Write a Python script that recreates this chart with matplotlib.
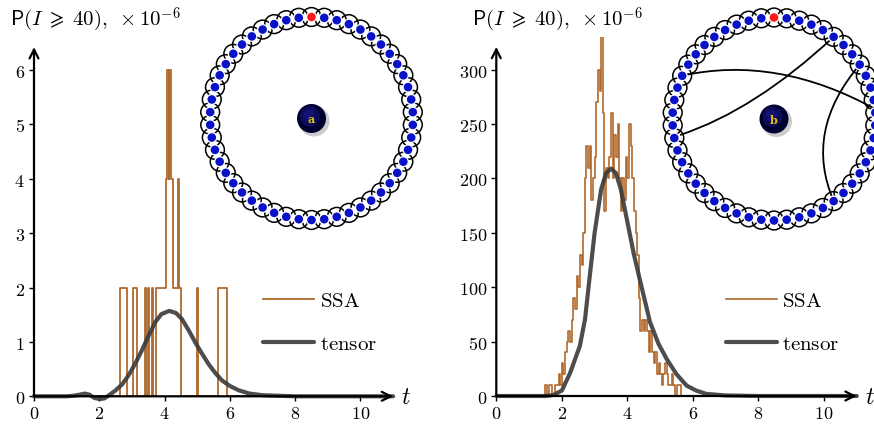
import numpy as np
import matplotlib
matplotlib.use('Agg')
import matplotlib.pyplot as plt
from matplotlib.patches import Circle, PathPatch
from matplotlib.path import Path

plt.rcParams['mathtext.fontset'] = 'cm'

# ---- data ----
# panel a: SSA step breakpoints (value holds until next time)
ssa_a_t = [0, 2.64, 2.86, 3.03, 3.15, 3.40, 3.44, 3.49, 3.53, 3.60, 3.65, 3.73,
           4.03, 4.07, 4.12, 4.15, 4.20, 4.27, 4.42, 4.45, 4.51, 5.00, 5.03,
           5.65, 5.91, 11.0]
ssa_a_v = [0, 2, 0, 2, 0, 2, 0, 2, 0, 2, 0, 2,
           4, 6, 4, 6, 4, 2, 4, 2, 0, 2, 0,
           2, 0, 0]

tensor_a_t = [0, 1.0, 1.2, 1.4, 1.55, 1.7, 1.85, 2.0, 2.15, 2.3, 2.48, 2.7, 2.89,
              3.1, 3.3, 3.5, 3.71, 3.9, 4.14, 4.35, 4.53, 4.75, 4.94, 5.15,
              5.35, 5.55, 5.76, 6.0, 6.27, 6.6, 7.0, 7.5, 8.0, 11.0]
tensor_a_v = [0, 0, 0.01, 0.03, 0.05, 0.03, -0.03, -0.05, -0.04, 0.02, 0.10,
              0.22, 0.38, 0.60, 0.84, 1.10, 1.36, 1.51, 1.57, 1.53, 1.42, 1.20,
              0.99, 0.78, 0.59, 0.43, 0.29, 0.19, 0.11, 0.05, 0.02, 0.01, 0.0, 0.0]

# panel b: SSA sampled every 0.05 from t=1.50
ssa_b_t0 = 1.50
ssa_b_dt = 0.05
ssa_b_v = [10, 0, 10, 10, 0, 0, 10, 10, 20, 10,
           30, 20, 40, 50, 60, 50, 70, 90, 80, 110,
           100, 130, 120, 150, 200, 230, 210, 230, 180, 200,
           220, 270, 300, 280, 330, 260, 170, 210, 200, 220,
           260, 200, 240, 220, 250, 200, 170, 200, 180, 220,
           200, 250, 230, 200, 170, 150, 130, 90, 60, 70,
           60, 70, 60, 40, 60, 40, 30, 40, 20, 30,
           20, 10, 20, 30, 20, 10, 10, 20, 10, 0,
           10, 10, 10, 0]

tensor_b_t = [0, 1.5, 1.75, 2.0, 2.25, 2.55, 2.71, 2.84, 3.0, 3.2, 3.35, 3.5,
              3.65, 3.8, 4.0, 4.2, 4.38, 4.69, 4.95, 5.2, 5.5, 5.81, 6.1, 6.4,
              7.0, 8.0, 11.0]
tensor_b_v = [0, 0, 1, 5, 21, 46, 71, 107, 150, 190, 205, 209,
              205, 190, 160, 130, 107, 68, 48, 34, 20, 9.5, 5, 2,
              0.5, 0, 0]

xticks = [0, 2, 4, 6, 8, 10]
yticks_a = [0, 1, 2, 3, 4, 5, 6]
yticks_b = [0, 50, 100, 150, 200, 250, 300]

ssa_color = '#b0692d'
tensor_color = '#3a3a3a'
W, H = 874, 427

fig = plt.figure(figsize=(W / 100, H / 100), dpi=100)


def px_axes(x0, scale_x, y0, scale_y, xlim, ylim):
    # place axes so that data (0,0) lands on pixel (x0, y0 from top)
    left = x0 + xlim[0] * scale_x
    width = (xlim[1] - xlim[0]) * scale_x
    bottom = (H - y0) + ylim[0] * scale_y
    height = (ylim[1] - ylim[0]) * scale_y
    ax = fig.add_axes([left / W, bottom / H, width / W, height / H])
    ax.set_xlim(*xlim)
    ax.set_ylim(*ylim)
    return ax


def style_axes(ax, yticks, ytop):
    for s in ax.spines.values():
        s.set_visible(False)
    ax.spines['left'].set_position(('data', 0))
    ax.spines['bottom'].set_position(('data', 0))
    ax.set_xticks(xticks)
    ax.set_xticklabels([f'${v}$' for v in xticks])
    ax.set_yticks(yticks)
    ax.set_yticklabels([f'${v}$' for v in yticks])
    ax.tick_params(axis='both', labelsize=13, length=3.5, width=1.0,
                   direction='out', color='black')
    ax.tick_params(axis='x', pad=2)
    ax.tick_params(axis='y', pad=3)
    arrow = dict(arrowstyle='->', lw=1.6, color='black', mutation_scale=16,
                 shrinkA=0, shrinkB=0)
    ax.annotate('', xy=(11.0, 0), xytext=(0, 0), arrowprops=arrow,
                annotation_clip=False)
    ax.annotate('', xy=(0, ytop), xytext=(0, 0), arrowprops=arrow,
                annotation_clip=False)
    ax.text(11.25, 0, r'$t$', fontsize=17, ha='left', va='center')


# ---- panel a ----
ax1 = px_axes(34, 32.65, 397.3, 54.4, (-0.6, 11.4), (-0.3, 6.6))
ax1.step(ssa_a_t, ssa_a_v, where='post', color=ssa_color, lw=1.3,
         label=r'$\mathrm{SSA}$')
ax1.plot(tensor_a_t, tensor_a_v, color=tensor_color, lw=3, alpha=0.9,
         solid_capstyle='round', label=r'$\mathrm{tensor}$')
style_axes(ax1, yticks_a, 6.42)

# ---- panel b ----
ssa_b_t = [ssa_b_t0 + i * ssa_b_dt for i in range(len(ssa_b_v))]
ax2 = px_axes(496.3, 32.77, 397.0, 1.0877, (-0.6, 11.4), (-15, 330))
ax2.step([0] + ssa_b_t + [11.0], [0] + ssa_b_v + [0], where='post',
         color=ssa_color, lw=1.2, label=r'$\mathrm{SSA}$')
ax2.plot(tensor_b_t, tensor_b_v, color=tensor_color, lw=3, alpha=0.9,
         solid_capstyle='round', label=r'$\mathrm{tensor}$')
style_axes(ax2, yticks_b, 321)

for ax, lx in ((ax1, 263), (ax2, 725.5)):
    ax.legend(loc='upper left', bbox_to_anchor=(lx / W, 1 - 291 / H),
              bbox_transform=fig.transFigure, frameon=False, fontsize=15,
              handlelength=2.45, handletextpad=0.28, labelspacing=1.1,
              borderpad=0, borderaxespad=0)

title = r'$\mathsf{P}(I\;\geqslant\;40),\;\times 10^{-6}$'
fig.text(10 / W, 1 - 20 / H, title, fontsize=15, ha='left', va='center')
fig.text(472 / W, 1 - 20 / H, title, fontsize=15, ha='left', va='center')

# ---- inset ring diagrams (pixel space overlay) ----
ov = fig.add_axes([0, 0, 1, 1], zorder=5)
ov.set_xlim(0, W)
ov.set_ylim(H, 0)
ov.axis('off')
ov.patch.set_alpha(0)

n_beads = 50
ring_r = 101.5


def ring(cx, cy, letter):
    ang = np.deg2rad(90 - 360 / n_beads * np.arange(n_beads))
    bx = cx + ring_r * np.cos(ang)
    by = cy - ring_r * np.sin(ang)
    for x, y in zip(bx, by):
        ov.add_patch(Circle((x, y), 9.4, fill=False, ec='black', lw=1.1,
                            zorder=1))
    for i, (x, y) in enumerate(zip(bx, by)):
        c = '#ff1a1a' if i == 0 else '#0a12c8'
        ov.add_patch(Circle((x, y), 5.6, fc='white', ec='none', zorder=2.5))
        ov.add_patch(Circle((x, y), 4.3, fc=c, ec='none', zorder=3))
    # central ball with soft shadow
    ov.add_patch(Circle((cx + 2.5, cy + 2.5), 15.5, fc='#9a9a9a', ec='none',
                        alpha=0.5, zorder=3))
    ov.add_patch(Circle((cx, cy), 14.5, fc='#000030', ec='none', zorder=4))
    ov.add_patch(Circle((cx - 1.5, cy - 2), 10, fc='#0c0c5a', ec='none',
                        zorder=4))
    ov.add_patch(Circle((cx - 2.5, cy - 3.5), 5.5, fc='#15157a', ec='none',
                        zorder=4, alpha=0.8))
    ov.text(cx, cy, letter, color='#e8c400', fontsize=8, fontweight='bold',
            family='DejaVu Serif', ha='center', va='center', zorder=6)
    return bx, by


ring(311.5, 119.5, 'a')
ring(774, 120, 'b')

chords = [((682.0, 76.7), (777, 55.7), (876, 110.5)),
          ((680.0, 136.0), (755, 111.2), (833.8, 37.7)),
          ((859.9, 65.5), (803.2, 132.1), (833.8, 202.3))]
for p0, c, p2 in chords:
    path = Path([p0, c, p2], [Path.MOVETO, Path.CURVE3, Path.CURVE3])
    ov.add_patch(PathPatch(path, fill=False, ec='black', lw=1.3, zorder=2))

fig.savefig('out.png', dpi=100)
